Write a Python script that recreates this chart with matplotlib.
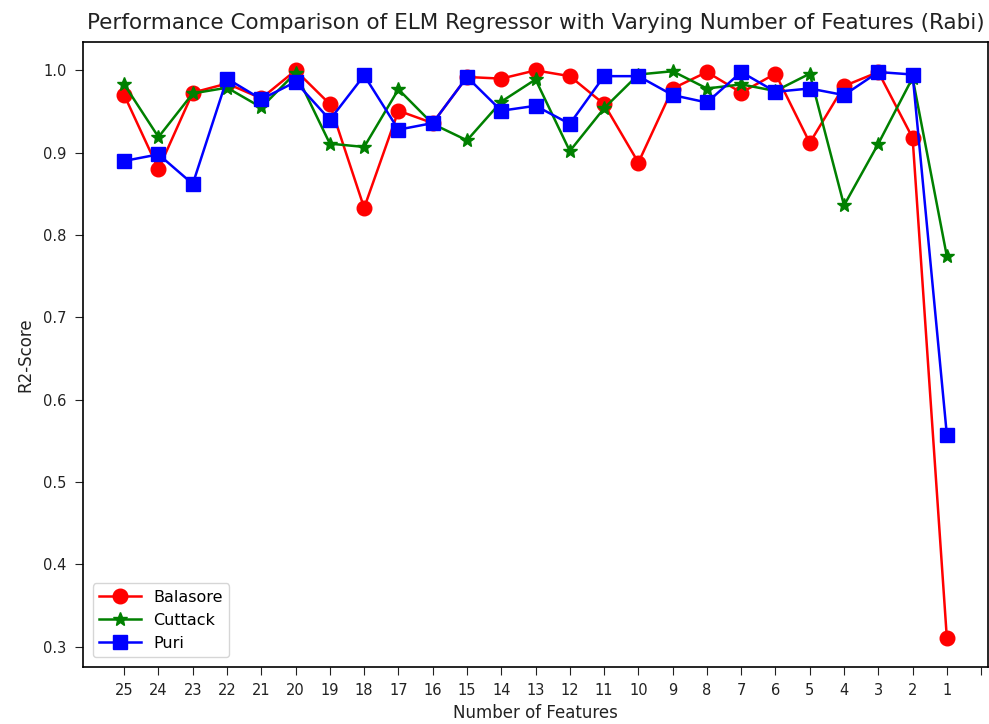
import matplotlib
matplotlib.use("Agg")
import matplotlib.pyplot as plt
import numpy as np

# number of features, from 25 down to 1
features = list(range(25, 0, -1))

balasore = [0.970, 0.880, 0.973, 0.984, 0.966, 1.000, 0.959, 0.833, 0.951, 0.936,
            0.992, 0.990, 1.000, 0.993, 0.959, 0.888, 0.978, 0.998, 0.973, 0.996,
            0.912, 0.981, 0.998, 0.918, 0.310]
cuttack = [0.983, 0.919, 0.972, 0.979, 0.955, 0.997, 0.911, 0.907, 0.977, 0.935,
           0.915, 0.962, 0.989, 0.902, 0.954, 0.995, 0.999, 0.978, 0.983, 0.975,
           0.996, 0.836, 0.911, 0.991, 0.774]
puri = [0.890, 0.898, 0.862, 0.990, 0.965, 0.986, 0.940, 0.994, 0.928, 0.936,
        0.992, 0.951, 0.957, 0.935, 0.993, 0.993, 0.970, 0.961, 0.998, 0.974,
        0.978, 0.970, 0.998, 0.995, 0.557]

xpos = np.arange(len(features))
tick_labels = [str(f) for f in features] + [""]

fig = plt.figure(figsize=(9.89, 7.24), dpi=100)
ax = fig.add_axes([0.084, 0.079, 0.915, 0.863])

ax.plot(xpos, balasore, "ro-", markersize=10.5, linewidth=1.8, label="Balasore")
ax.plot(xpos, cuttack, "g*-", markersize=10.5, linewidth=1.8, label="Cuttack")
ax.plot(xpos, puri, "bs-", markersize=10.5, linewidth=1.8, label="Puri")

ax.set_xticks(np.arange(len(features) + 1))
ax.set_xticklabels(tick_labels)
ax.set_xlim(-1.2, 25.2)
ax.tick_params(labelsize=10.5, length=6, pad=6, colors="#222222")
for s in ax.spines.values():
    s.set_linewidth(1.2)

ax.set_xlabel("Number of Features", fontsize=12, color="#222222")
ax.set_ylabel("R2-Score", fontsize=12, color="#222222", labelpad=6)
ax.set_title("Performance Comparison of ELM Regressor with Varying Number of Features (Rabi)",
             fontsize=15.5, pad=9, color="#222222")
ax.legend(loc="lower left", fontsize=11.5, handlelength=2.6, borderaxespad=0.6)

fig.savefig("out.png", dpi=100)
